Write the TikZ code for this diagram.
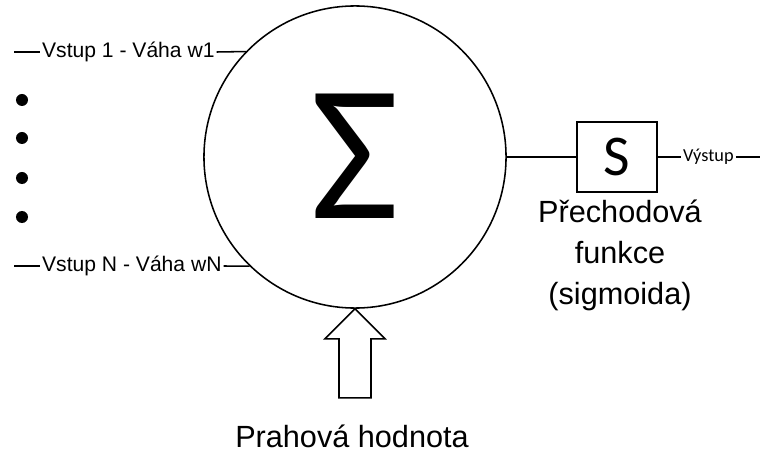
\documentclass[tikz,border=0pt]{standalone}
\usepackage{fontspec}
\setmainfont{Liberation Sans}
\newfontfamily\calfont{Carlito}
\usetikzlibrary{arrows.meta,positioning}

\begin{document}
\begin{tikzpicture}[
  x=0.025cm, y=-0.025cm,
  line width=1.1pt,
  sumnode/.style={draw, circle, minimum size=7.55cm, inner sep=0pt},
  funbox/.style={draw, minimum width=2cm, minimum height=1.75cm, inner sep=0pt, font=\calfont\fontsize{41}{41}\selectfont},
  inlabel/.style={inner sep=1pt, font=\fontsize{15}{16}\selectfont},
  biglabel/.style={align=center, inner sep=0pt, font=\fontsize{21.8}{29}\selectfont},
  dot/.style={circle, fill=black, minimum size=0.3cm, inner sep=0pt}
]
  \useasboundingbox (0,0) rectangle (761,452);

  \node[sumnode] (sum) at (355,157) {\calfont\fontsize{138}{138}\selectfont\raisebox{0.05cm}{Σ}};
  \node[funbox] (sig) at (617,157) {S};

  % inputs
  \coordinate (in1) at (14,52);
  \node[inlabel, anchor=west] (w1) at (40,52) {Vstup 1 - Váha w1};
  \coordinate (inN) at (14,266);
  \node[inlabel, anchor=west] (wN) at (40,266) {Vstup N - Váha wN};
  \draw (in1) -- (w1.west);
  \draw (w1.east) -- (sum.136);
  \draw (inN) -- (wN.west);
  \draw (wN.east) -- (sum.226);

  \foreach \i/\y in {1/100, 2/138, 3/178, 4/217}
    \node[dot] (dot\i) at (22,\y) {};

  % output
  \node[inlabel, anchor=west, font=\calfont\fontsize{13}{15}\selectfont] (out) at (681,157) {Výstup};
  \coordinate (outend) at (760,157);
  \draw (sum.east) -- (sig.west);
  \draw (sig.east) -- (out.west);
  \draw (out.east) -- (outend);
  \node[biglabel, anchor=base] (siglabel) at (620,304) {Přechodová\\funkce\\(sigmoida)};

  % threshold
  \draw (sum.south) -- ++(-30,30) -- ++(14,0) -- ++(0,59) -- ++(32,0) -- ++(0,-59) -- ++(14,0) -- cycle;
  \node[biglabel, anchor=base] (prah) at (352,447) {Prahová hodnota};
\end{tikzpicture}
\end{document}
